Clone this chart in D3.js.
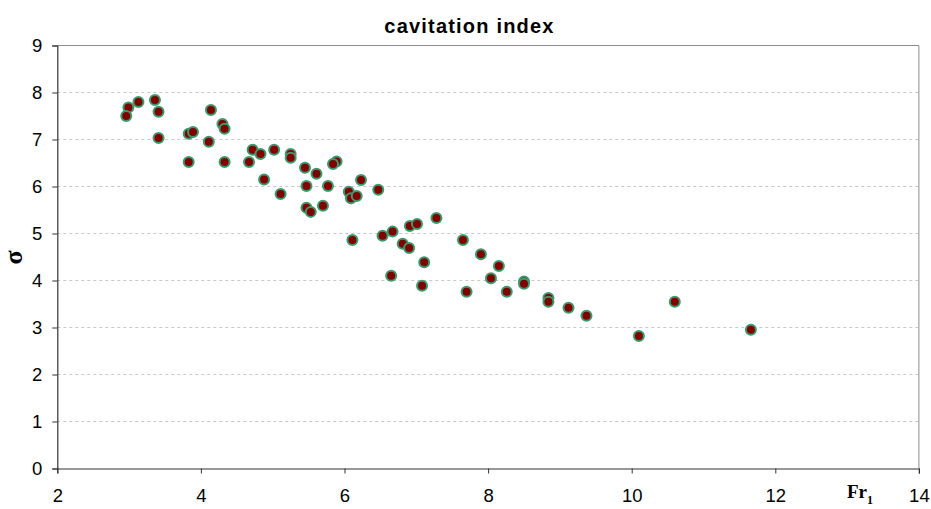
<!DOCTYPE html>
<html><head><meta charset="utf-8">
<script src="https://cdn.jsdelivr.net/npm/d3@7"></script>
<style>body{margin:0;background:#fff}svg{display:block}</style>
</head><body>
<script>
const title = "cavitation index";
const xTicks = [2,4,6,8,10,12,14];
const yTicks = [0,1,2,3,4,5,6,7,8,9];
const frValues = [2.99,2.96,3.13,3.36,3.41,3.41,3.83,3.89,3.83,4.14,4.30,4.33,4.11,4.33,4.67,4.72,4.83,5.02,5.25,5.25,4.88,5.11,5.45,5.61,5.89,5.84,5.47,5.77,5.47,5.53,5.70,6.06,6.09,6.17,6.23,6.47,6.11,6.53,6.67,6.91,7.01,7.28,6.81,6.90,6.65,7.11,7.08,7.65,7.90,8.15,8.04,7.70,8.26,8.50,8.50,8.84,8.84,9.12,9.37,10.10,10.60,11.66];
const sigmaValues = [7.68,7.50,7.80,7.84,7.59,7.03,7.12,7.16,6.52,7.63,7.33,7.23,6.95,6.52,6.52,6.78,6.69,6.78,6.69,6.61,6.15,5.84,6.40,6.27,6.53,6.48,6.01,6.01,5.55,5.46,5.59,5.89,5.75,5.80,6.14,5.93,4.86,4.95,5.04,5.16,5.20,5.33,4.78,4.69,4.10,4.39,3.89,4.86,4.56,4.31,4.05,3.76,3.76,3.98,3.93,3.63,3.55,3.42,3.25,2.82,3.55,2.95];

const W = 931, H = 509;
const L = 57.3, R = 918.9, T = 45.5, B = 468.5;
const svg = d3.select("body").append("svg").attr("width", W).attr("height", H);
const x = d3.scaleLinear().domain([2,14]).range([L,R]);
const y = d3.scaleLinear().domain([0,9]).range([B,T]);

// grid
svg.append("g").selectAll("line").data(yTicks.filter(d=>d>0&&d<9)).join("line")
  .attr("x1", L).attr("x2", R).attr("y1", d=>y(d)).attr("y2", d=>y(d))
  .attr("stroke", "#c8c8c8").attr("stroke-width", 1).attr("stroke-dasharray", "3,3");
// top / right border
svg.append("line").attr("x1", L).attr("x2", R).attr("y1", T).attr("y2", T).attr("stroke", "#8c8c8c");
svg.append("line").attr("x1", R).attr("x2", R).attr("y1", T).attr("y2", B).attr("stroke", "#8c8c8c");

const font = "'Liberation Sans', Arial, sans-serif";
const xAxis = svg.append("g").attr("transform", `translate(0,${B})`)
  .call(d3.axisBottom(x).tickValues(xTicks).tickSize(5).tickPadding(15).tickFormat(d3.format("d")));
const yAxis = svg.append("g").attr("transform", `translate(${L},0)`)
  .call(d3.axisLeft(y).tickValues(yTicks).tickSize(5).tickPadding(10).tickFormat(d3.format("d")));
[xAxis, yAxis].forEach(a => {
  a.select(".domain").attr("stroke", "#333").attr("stroke-width", 1.2);
  a.selectAll(".tick line").attr("stroke", "#333");
  a.selectAll("text").attr("font-family", font).attr("font-size", 18.5).attr("fill", "#000");
});

// points
svg.append("g").selectAll("circle").data(frValues.map((d,i)=>[d, sigmaValues[i]])).join("circle")
  .attr("cx", d=>x(d[0])).attr("cy", d=>y(d[1])).attr("r", 5)
  .attr("fill", "#800000").attr("stroke", "#3a9a6e").attr("stroke-width", 2);

// title
svg.append("text").attr("x", 469.5).attr("y", 33).attr("text-anchor", "middle")
  .attr("font-family", font).attr("font-weight", "bold").attr("font-size", 20)
  .attr("letter-spacing", 1.2).text(title);

// y label
svg.append("text").attr("transform", "translate(22,257.5) rotate(-90)").attr("text-anchor", "middle")
  .attr("font-family", "'Liberation Serif', serif").attr("font-weight", "bold").attr("font-size", 26).text("σ");

// x label
const xl = svg.append("text").attr("x", 847).attr("y", 498)
  .attr("font-family", "'Liberation Serif', serif").attr("font-weight", "bold").attr("font-size", 19);
xl.append("tspan").text("Fr");
xl.append("tspan").attr("dy", 6).attr("font-size", 12).text("1");
</script>
</body></html>
